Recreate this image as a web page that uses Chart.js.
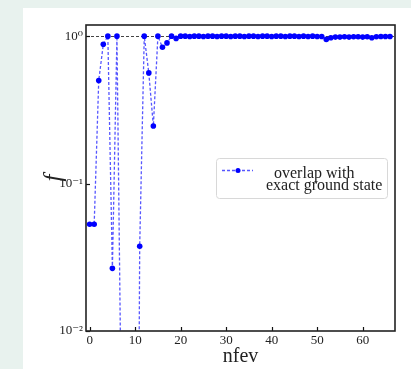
<!DOCTYPE html>
<html>
<head>
<meta charset="utf-8">
<script src="https://cdn.jsdelivr.net/npm/chart.js@4"></script>
<style>
  html, body { margin: 0; padding: 0; background: #e8f2ee; width: 411px; height: 369px; overflow: hidden; }
  #wrap { position: absolute; left: 23px; top: 8px; width: 388px; height: 361px; background: #fff; }
</style>
</head>
<body>
<div id="wrap"><canvas id="overlap_chart" width="388" height="361"></canvas></div>
<script>
nfev = [];
for (i = 0; i <= 66; i++) nfev.push(i);

overlap = [
  0.053, 0.053, 0.50, 0.88, 1.0, 0.0266, 1.0, 0.002, 0.0004, 0.0001,
  1e-7, 0.0376, 1.0, 0.563, 0.246, 1.0, 0.84, 0.90, 1.0, 0.965,
  1.0, 1.0, 0.995, 1.0, 1.0, 0.995, 1.0, 1.0, 0.995, 1.0,
  1.0, 0.995, 1.0, 1.0, 0.995, 1.0, 1.0, 0.995, 1.0, 1.0,
  0.995, 1.0, 1.0, 0.995, 1.0, 1.0, 0.995, 1.0, 0.995, 1.0,
  0.995, 0.995, 0.95, 0.975, 0.985, 0.985, 0.99, 0.985, 0.99, 0.99,
  0.985, 0.99, 0.975, 0.99, 0.995, 0.995, 0.995
];

xTicks = [0, 10, 20, 30, 40, 50, 60];
yTicks = [0.01, 0.1, 1];
yTickLabels = {0.01: '10\u207B\u00B2', 0.1: '10\u207B\u00B9', 1: '10\u2070'};
legendLines = ['overlap with', 'exact ground state'];

serif = "'Liberation Serif', 'DejaVu Serif', serif";

// frame, inward ticks, y=1 reference line and the legend box
framePlugin = {
  id: 'frame',
  beforeDatasetsDraw(chart) {
    const c = chart.ctx, a = chart.chartArea, y = chart.scales.y;
    const py = Math.round(y.getPixelForValue(1)) + 0.5;
    c.save();
    c.strokeStyle = '#444';
    c.lineWidth = 1;
    c.setLineDash([3, 2]);
    c.beginPath();
    c.moveTo(a.left, py);
    c.lineTo(a.right, py);
    c.stroke();
    c.restore();
  },
  afterDatasetsDraw(chart) {
    const c = chart.ctx, a = chart.chartArea;
    const xs = chart.scales.x, ys = chart.scales.y;
    c.save();
    c.strokeStyle = '#111';
    c.lineWidth = 1.2;
    xTicks.forEach(v => {
      const px = Math.round(xs.getPixelForValue(v)) + 0.5;
      c.beginPath(); c.moveTo(px, a.bottom); c.lineTo(px, a.bottom - 4); c.stroke();
    });
    yTicks.forEach(v => {
      const py = Math.round(ys.getPixelForValue(v)) + 0.5;
      c.beginPath(); c.moveTo(a.left, py); c.lineTo(a.left + 4, py); c.stroke();
    });
    c.strokeStyle = '#222';
    c.lineWidth = 1.6;
    c.strokeRect(a.left, a.top, a.right - a.left, a.bottom - a.top);

    // legend
    const ds = chart.data.datasets[0];
    const w = 171, h = 40;
    const lx = a.right - 8 - w, ly = (a.top + a.bottom) / 2 - h / 2;
    c.fillStyle = 'rgba(255,255,255,0.9)';
    c.strokeStyle = '#d8d8d8';
    c.lineWidth = 1;
    c.beginPath();
    c.roundRect(lx + 0.5, ly + 0.5, w, h, 3);
    c.fill();
    c.stroke();
    c.strokeStyle = ds.borderColor;
    c.lineWidth = ds.borderWidth;
    c.setLineDash(ds.borderDash);
    c.beginPath();
    c.moveTo(lx + 6, ly + 12.5);
    c.lineTo(lx + 37, ly + 12.5);
    c.stroke();
    c.setLineDash([]);
    c.fillStyle = ds.pointBackgroundColor;
    c.beginPath();
    c.arc(lx + 22, ly + 12.5, 2.5, 0, Math.PI * 2);
    c.fill();
    c.fillStyle = '#222';
    c.font = '16px ' + serif;
    c.textBaseline = 'alphabetic';
    c.fillText(legendLines[0], lx + 58, ly + 19.5);
    c.fillText(legendLines[1], lx + 50, ly + 32);
    c.restore();
  }
};

config = {
  type: 'line',
  data: {
    labels: nfev,
    datasets: [{
      label: legendLines.join(' '),
      data: nfev.map((x, i) => ({x: x, y: overlap[i]})),
      borderColor: 'rgba(30,30,255,0.75)',
      backgroundColor: '#0000ff',
      pointBackgroundColor: '#0000ff',
      pointBorderWidth: 0,
      pointRadius: 2.8,
      borderWidth: 1.3,
      borderDash: [3, 2],
      tension: 0,
    }]
  },
  options: {
    responsive: false,
    animation: false,
    events: [],
    layout: { padding: { top: 17, right: 16, left: 0, bottom: 0 } },
    plugins: {
      legend: { display: false },
      tooltip: { enabled: false },
    },
    scales: {
      x: {
        type: 'linear',
        min: -0.8,
        max: 67.1,
        afterBuildTicks: s => { s.ticks = xTicks.map(v => ({value: v})); },
        afterFit: s => { s.height = 38; },
        grid: { display: false, drawTicks: false },
        border: { display: false },
        ticks: { color: '#222', padding: 2, maxRotation: 0, font: { family: serif, size: 13 } },
        title: { display: true, text: 'nfev', color: '#222', padding: { top: 2, bottom: 0 }, font: { family: serif, size: 20 } },
      },
      y: {
        type: 'logarithmic',
        min: 0.01,
        max: 1.19,
        afterBuildTicks: s => { s.ticks = yTicks.map(v => ({value: v})); },
        afterFit: s => { s.width = 63; },
        grid: { display: false, drawTicks: false },
        border: { display: false },
        ticks: { color: '#222', padding: 3, callback: v => yTickLabels[v], font: { family: serif, size: 13 } },
        title: { display: true, text: 'f', color: '#222', padding: { top: 16, bottom: 0 }, font: { family: serif, size: 25, style: 'italic' } },
      }
    }
  },
  plugins: [framePlugin]
};

ctx = document.getElementById('overlap_chart');
new Chart(ctx, config);
</script>
</body>
</html>
